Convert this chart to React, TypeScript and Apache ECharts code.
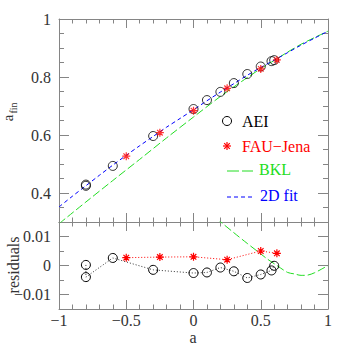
import React, { useEffect, useRef } from 'react';
import * as echarts from 'echarts';

// ---- data ----
const aeiSpin = [-0.8, -0.8, -0.6, -0.3, 0, 0.1, 0.2, 0.3, 0.4, 0.5, 0.58, 0.6];
const aeiFin = [0.4248, 0.429, 0.4934, 0.5965, 0.6896, 0.7204, 0.7487, 0.779, 0.8103, 0.8361, 0.8547, 0.8581];
const aeiResid = [0.0002, -0.004, 0.0026, -0.0015, -0.0026, -0.0024, -0.0007, -0.002, -0.0043, -0.0031, -0.0017, -0.0001];

const fauSpin = [-0.5, -0.25, 0, 0.25, 0.5, 0.62];
const fauFin = [0.527, 0.608, 0.684, 0.761, 0.828, 0.859];
const fauResid = [0.0027, 0.0029, 0.003, 0.002, 0.005, 0.0042];

const fitSpin = [-1, -0.9, -0.8, -0.7, -0.6, -0.5, -0.4, -0.3, -0.2, -0.1, 0, 0.1, 0.2, 0.3, 0.4, 0.5, 0.6, 0.7, 0.8, 0.9, 1];
const fitFin = [0.352, 0.389, 0.425, 0.461, 0.496, 0.53, 0.563, 0.595, 0.627, 0.657, 0.687, 0.718, 0.748, 0.777, 0.806, 0.833, 0.858, 0.884, 0.91, 0.934, 0.958];

const bklSpin = [-1, -0.8, -0.6, -0.4, -0.2, 0, 0.2, 0.3, 0.4, 0.5, 0.6, 0.7, 0.8, 0.9, 1];
const bklFin = [0.294, 0.369, 0.443, 0.516, 0.59, 0.662, 0.733, 0.766, 0.798, 0.829, 0.857, 0.886, 0.913, 0.936, 0.958];

const bklResSpin = [0.17, 0.2, 0.3, 0.4, 0.5, 0.55, 0.62, 0.7, 0.75, 0.8, 0.85, 0.9, 0.95, 1];
const bklResid = [0.0163, 0.0151, 0.0113, 0.0076, 0.004, 0.0022, 0, -0.0024, -0.0029, -0.0034, -0.0033, -0.0025, -0.0013, 0];

const topMajorTicks = [0.4, 0.6, 0.8, 1];
const bottomMajorTicks = [-0.01, 0, 0.01];

// ---- styles ----
const AX = '#858585';
const FONT = '"Liberation Serif", "DejaVu Serif", serif';
const GREEN = '#22dd22';
const BLUE = '#0000ff';
const RED = '#ff0000';
const STAR = 'path://M5 0L5 10M0 5L10 5M1.5 1.5L8.5 8.5M1.5 8.5L8.5 1.5';

const zip = (xs: number[], ys: number[]) => xs.map((x, i) => [x, ys[i]]);
const fmt = (v: number) => {
  const s = String(Number(v.toFixed(4)));
  return s.replace('-', '\u2212');
};

const lineStyle = { color: AX, width: 1 };

const xAxisDef = (gridIndex: number, position: string, showLabel: boolean) => ({
  type: 'value',
  gridIndex,
  position,
  min: -1,
  max: 1,
  interval: 0.5,
  axisLine: { show: true, onZero: false, lineStyle },
  axisTick: { show: true, inside: true, length: 9, lineStyle },
  minorTick: { show: true, splitNumber: 5, length: 4.5, lineStyle },
  axisLabel: {
    show: showLabel,
    margin: 3,
    fontFamily: FONT,
    fontSize: 16,
    color: '#333',
    formatter: fmt,
  },
  splitLine: { show: false },
  minorSplitLine: { show: false },
});

const yMinor = (gridIndex: number, position: string, min: number, max: number, interval: number) => ({
  type: 'value',
  gridIndex,
  position,
  min,
  max,
  interval,
  axisLine: { show: true, onZero: false, lineStyle },
  axisTick: { show: true, inside: true, length: 5, lineStyle },
  axisLabel: { show: false },
  splitLine: { show: false },
});

const yMajor = (
  gridIndex: number,
  position: string,
  min: number,
  max: number,
  interval: number,
  majors: number[],
  showLabel: boolean
) => ({
  type: 'value',
  gridIndex,
  position,
  min,
  max,
  interval,
  axisLine: { show: false, onZero: false },
  axisTick: { show: true, inside: true, length: 10, customValues: majors, lineStyle },
  axisLabel: {
    show: showLabel,
    customValues: majors,
    margin: 8,
    fontFamily: FONT,
    fontSize: 16,
    color: '#333',
    formatter: fmt,
  },
  splitLine: { show: false },
});

const starLines = (cx: number, cy: number, r: number, color: string) => {
  const d = r * 0.7;
  const segs = [
    [cx, cy - r, cx, cy + r],
    [cx - r, cy, cx + r, cy],
    [cx - d, cy - d, cx + d, cy + d],
    [cx - d, cy + d, cx + d, cy - d],
  ];
  return segs.map((s) => ({
    type: 'line',
    shape: { x1: s[0], y1: s[1], x2: s[2], y2: s[3] },
    style: { stroke: color, lineWidth: 1.2 },
  }));
};

const textEl = (x: number, y: number, text: string, color: string, size = 16, extra: any = {}) => ({
  type: 'text',
  x,
  y,
  ...extra,
  style: {
    text,
    fill: color,
    font: `${size}px ${FONT}`,
    verticalAlign: 'middle',
    ...(extra.style || {}),
  },
});

export default function App() {
  const ref = useRef<HTMLDivElement>(null);

  useEffect(() => {
    if (!ref.current) return;
    const chart = echarts.init(ref.current, null, { renderer: 'svg' });

    const option: any = {
      animation: false,
      backgroundColor: '#ffffff',
      grid: [
        { left: 59, top: 19, width: 269, height: 203 },
        { left: 59, top: 222, width: 269, height: 87 },
      ],
      xAxis: [
        xAxisDef(0, 'bottom', false),
        xAxisDef(0, 'top', false),
        xAxisDef(1, 'bottom', true),
        xAxisDef(1, 'top', false),
      ],
      yAxis: [
        yMinor(0, 'left', 0.3, 1, 0.05),
        yMajor(0, 'left', 0.3, 1, 0.05, topMajorTicks, true),
        yMinor(0, 'right', 0.3, 1, 0.05),
        yMajor(0, 'right', 0.3, 1, 0.05, topMajorTicks, false),
        yMinor(1, 'left', -0.015, 0.015, 0.005),
        yMajor(1, 'left', -0.015, 0.015, 0.005, bottomMajorTicks, true),
        yMinor(1, 'right', -0.015, 0.015, 0.005),
        yMajor(1, 'right', -0.015, 0.015, 0.005, bottomMajorTicks, false),
      ],
      series: [
        {
          type: 'line',
          name: 'BKL',
          xAxisIndex: 0,
          yAxisIndex: 0,
          data: zip(bklSpin, bklFin),
          symbol: 'none',
          smooth: 0.3,
          clip: true,
          lineStyle: { color: GREEN, width: 1, type: [8, 3] },
          z: 2,
        },
        {
          type: 'line',
          name: '2D fit',
          xAxisIndex: 0,
          yAxisIndex: 0,
          data: zip(fitSpin, fitFin),
          symbol: 'none',
          smooth: 0.3,
          clip: true,
          lineStyle: { color: BLUE, width: 1, type: [4, 3] },
          z: 3,
        },
        {
          type: 'scatter',
          name: 'AEI',
          xAxisIndex: 0,
          yAxisIndex: 0,
          data: zip(aeiSpin, aeiFin),
          symbol: 'circle',
          symbolSize: 9,
          itemStyle: { color: 'none', borderColor: '#000', borderWidth: 1 },
          z: 4,
        },
        {
          type: 'scatter',
          name: 'FAU-Jena',
          xAxisIndex: 0,
          yAxisIndex: 0,
          data: zip(fauSpin, fauFin),
          symbol: STAR,
          symbolSize: 8,
          itemStyle: { color: 'none', borderColor: RED, borderWidth: 1.2 },
          z: 5,
        },
        {
          type: 'line',
          name: 'BKL residual',
          xAxisIndex: 2,
          yAxisIndex: 4,
          data: zip(bklResSpin, bklResid),
          symbol: 'none',
          smooth: 0.3,
          clip: true,
          lineStyle: { color: GREEN, width: 1, type: [8, 3] },
          z: 2,
        },
        {
          type: 'line',
          name: 'AEI residual',
          xAxisIndex: 2,
          yAxisIndex: 4,
          data: zip(aeiSpin, aeiResid),
          symbol: 'circle',
          symbolSize: 9,
          showSymbol: true,
          itemStyle: { color: 'none', borderColor: '#000', borderWidth: 1 },
          lineStyle: { color: '#333', width: 1, type: [1, 2] },
          z: 4,
        },
        {
          type: 'line',
          name: 'FAU-Jena residual',
          xAxisIndex: 2,
          yAxisIndex: 4,
          data: zip(fauSpin, fauResid),
          symbol: STAR,
          symbolSize: 8,
          showSymbol: true,
          itemStyle: { color: 'none', borderColor: RED, borderWidth: 1.2 },
          lineStyle: { color: RED, width: 1, type: [1, 2] },
          z: 5,
        },
      ],
      graphic: [
        { type: 'circle', shape: { cx: 227, cy: 121, r: 4.5 }, style: { fill: 'none', stroke: '#000', lineWidth: 1 } },
        textEl(242, 121, 'AEI', '#000'),
        ...starLines(227, 146, 4, RED),
        textEl(242, 146, 'FAU\u2212Jena', RED),
        { type: 'line', shape: { x1: 227, y1: 171, x2: 253, y2: 171 }, style: { stroke: GREEN, lineWidth: 1, lineDash: [12, 3] } },
        textEl(259, 169, 'BKL', GREEN),
        { type: 'line', shape: { x1: 227, y1: 197, x2: 253, y2: 197 }, style: { stroke: BLUE, lineWidth: 1, lineDash: [4, 3] } },
        textEl(260, 195, '2D fit', BLUE),
        textEl(193, 337, 'a', '#333', 16, { style: { align: 'center' } }),
        textEl(13.5, 265, 'residuals', '#333', 16, { rotation: Math.PI / 2, style: { align: 'center' } }),
        textEl(8, 118, 'a', '#333', 15, { rotation: Math.PI / 2, style: { align: 'center' } }),
        textEl(13.5, 108, 'fin', '#333', 10, { rotation: Math.PI / 2, style: { align: 'center' } }),
      ],
    };

    chart.setOption(option);
    return () => chart.dispose();
  }, []);

  return (
    <div
      ref={ref}
      style={{ position: 'absolute', left: 0, top: 0, width: 346, height: 346 }}
    />
  );
}
